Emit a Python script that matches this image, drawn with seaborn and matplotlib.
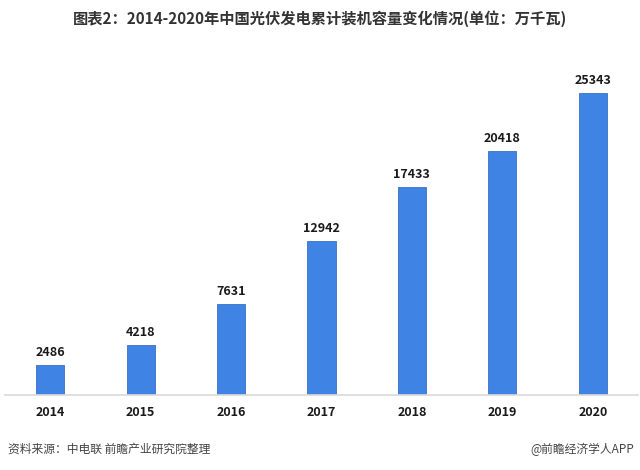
import matplotlib
matplotlib.use("Agg")
import matplotlib.pyplot as plt
import seaborn as sns
import pandas as pd

years = ["2014", "2015", "2016", "2017", "2018", "2019", "2020"]
capacity = [2486, 4218, 7631, 12942, 17433, 20418, 25343]
title = "图表2：2014-2020年中国光伏发电累计装机容量变化情况(单位：万千瓦)"
source = "资料来源：中电联 前瞻产业研究院整理"
credit = "@前瞻经济学人APP"

sns.set_theme(style="white")
plt.rcParams['font.family'] = ['Noto Sans CJK SC', 'DejaVu Sans']

df = pd.DataFrame({"year": years, "value": capacity})

fig = plt.figure(figsize=(6.4, 4.7), dpi=100)
ax = fig.add_axes([5/640, 1-395/470, 633/640, (395-61)/470])
sns.barplot(data=df, x="year", y="value", color="#3F84E5", saturation=1,
            width=0.31, ax=ax, edgecolor="#3A6FBF", linewidth=0.6)
ax.set_ylim(0, 28000)
ax.set_xlim(-0.5, 6.5)
for i, v in enumerate(capacity):
    ax.text(i, v + 500, str(v), ha="center", va="bottom", fontsize=9,
            fontweight="bold", color="#1a1a1a")
ax.set_xlabel("")
ax.set_ylabel("")
ax.set_yticks([])
for s in ["top", "right", "left"]:
    ax.spines[s].set_visible(False)
ax.spines["bottom"].set_color("#d9d9d9")
ax.spines["bottom"].set_linewidth(1.2)
ax.tick_params(axis="x", length=0, pad=8, labelsize=9)
for lbl in ax.get_xticklabels():
    lbl.set_fontweight("bold")
    lbl.set_color("#1a1a1a")

fig.text(0.5, 1-19/470, title, ha="center", va="center", fontsize=11,
         fontweight="bold", color="#333333")
fig.text(8/640, 1-449/470, source, ha="left", va="center", fontsize=8.5,
         color="#444444")
fig.text(634/640, 1-449/470, credit, ha="right", va="center", fontsize=8.5,
         color="#444444")

fig.savefig("out.png", dpi=100)
